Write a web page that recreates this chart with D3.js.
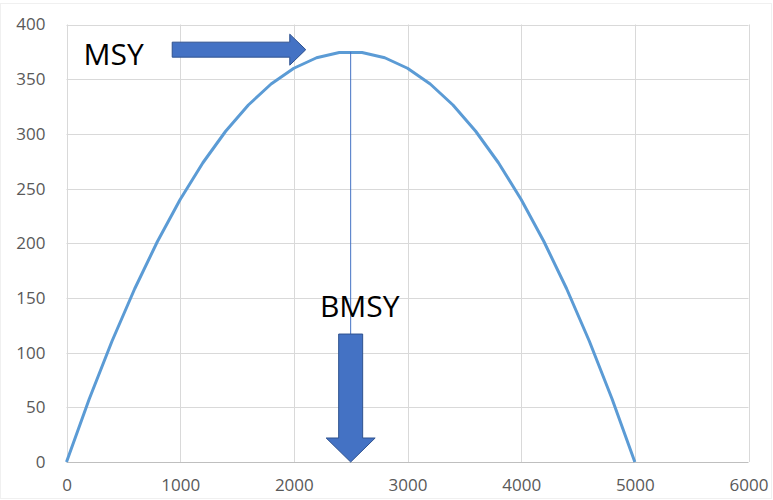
<!DOCTYPE html>
<html>
<head>
<meta charset="utf-8">
<script src="https://cdn.jsdelivr.net/npm/d3@7"></script>
<style>
  html, body { margin: 0; padding: 0; background: #fff; }
  svg { display: block; }
</style>
</head>
<body>
<svg id="chart" width="773" height="500"></svg>
<script>
// Surplus production curve: yield against biomass
const biomass = [0, 200, 400, 600, 800, 1000, 1200, 1400, 1600, 1800, 2000, 2200, 2400,
                 2600, 2800, 3000, 3200, 3400, 3600, 3800, 4000, 4200, 4400, 4600, 4800, 5000];
const yieldValues = [0, 57.6, 110.4, 158.4, 201.6, 240, 273.6, 302.4, 326.4, 345.6, 360, 369.6, 374.4,
                     374.4, 369.6, 360, 345.6, 326.4, 302.4, 273.6, 240, 201.6, 158.4, 110.4, 57.6, 0];
const xTicks = [0, 1000, 2000, 3000, 4000, 5000, 6000];
const yTicks = [0, 50, 100, 150, 200, 250, 300, 350, 400];

// Reference points
const msy = 375;
const bmsy = 2500;
const msyArrow = { fromX: 930, toX: 2105, y: 377 };
const bmsyArrow = { x: 2500, fromY: 117, toY: 0 };
const msyLabel = { x: 150, y: 363, text: "MSY" };
const bmsyLabel = { x: 2230, y: 133, text: "BMSY" };

const svg = d3.select("#chart");
const x = d3.scaleLinear().domain([0, 6000]).range([66.5, 748.5]);
const y = d3.scaleLinear().domain([0, 400]).range([462, 24.5]);

// faint outer frame
svg.append("rect")
  .attr("x", 0.5).attr("y", 3.5).attr("width", 771).attr("height", 495)
  .attr("fill", "none").attr("stroke", "#f0f0f0");

// gridlines
const grid = svg.append("g");
grid.selectAll("line.v").data(xTicks).join("line")
  .attr("x1", d => Math.round(x(d)) + 0.5).attr("x2", d => Math.round(x(d)) + 0.5)
  .attr("y1", y(0)).attr("y2", y(400))
  .attr("stroke", "#d9d9d9").attr("stroke-width", 1);
grid.selectAll("line.h").data(yTicks).join("line")
  .attr("y1", d => Math.round(y(d)) + 0.5).attr("y2", d => Math.round(y(d)) + 0.5)
  .attr("x1", x(0)).attr("x2", x(6000))
  .attr("stroke", d => d === 0 ? "#bfbfbf" : "#d9d9d9").attr("stroke-width", 1);

// axes (labels only)
const xAxis = d3.axisBottom(x).tickValues(xTicks).tickFormat(d3.format("d")).tickSize(0).tickPadding(17);
const yAxis = d3.axisLeft(y).tickValues(yTicks).tickFormat(d3.format("d")).tickSize(0).tickPadding(21);
const gx = svg.append("g").attr("transform", `translate(0,${y(0)})`).call(xAxis);
const gy = svg.append("g").attr("transform", `translate(${x(0)},0)`).call(yAxis);
[gx, gy].forEach(g => {
  g.select(".domain").remove();
  g.selectAll("text")
    .attr("fill", "#595959")
    .style("font-family", "'Open Sans', sans-serif")
    .style("font-size", "17px");
});

// production curve
const pts = biomass.map((b, i) => [b, yieldValues[i]]);
svg.append("path")
  .datum(pts)
  .attr("fill", "none")
  .attr("stroke", "#5B9BD5")
  .attr("stroke-width", 3)
  .attr("stroke-linejoin", "round")
  .attr("d", d3.line().x(d => x(d[0])).y(d => y(d[1])));

// BMSY drop line
svg.append("line")
  .attr("x1", x(bmsy)).attr("x2", x(bmsy))
  .attr("y1", y(msy)).attr("y2", y(bmsyArrow.fromY))
  .attr("stroke", "#4472C4").attr("stroke-width", 1);

// block arrows
const arrowStyle = sel => sel.attr("fill", "#4472C4").attr("stroke", "#2F528F").attr("stroke-width", 1);

function hArrow(x0, x1, yc, shaftHalf, headHalf, headLen) {
  const xh = x1 - headLen;
  return [[x0, yc - shaftHalf], [xh, yc - shaftHalf], [xh, yc - headHalf], [x1, yc],
          [xh, yc + headHalf], [xh, yc + shaftHalf], [x0, yc + shaftHalf]];
}
function vArrow(xc, y0, y1, shaftHalf, headHalf, headLen) {
  const yh = y1 - headLen;
  return [[xc - shaftHalf, y0], [xc + shaftHalf, y0], [xc + shaftHalf, yh], [xc + headHalf, yh],
          [xc, y1], [xc - headHalf, yh], [xc - shaftHalf, yh]];
}

svg.append("polygon")
  .attr("points", hArrow(x(msyArrow.fromX), x(msyArrow.toX), y(msyArrow.y), 7.5, 15.5, 16).join(" "))
  .call(arrowStyle);
svg.append("polygon")
  .attr("points", vArrow(x(bmsyArrow.x), y(bmsyArrow.fromY), y(bmsyArrow.toY), 12, 24.5, 24).join(" "))
  .call(arrowStyle);

// labels
svg.append("text")
  .attr("x", x(msyLabel.x)).attr("y", y(msyLabel.y))
  .attr("fill", "#000")
  .style("font-family", "'Open Sans', sans-serif").style("font-size", "30px")
  .text(msyLabel.text);
svg.append("text")
  .attr("x", x(bmsyLabel.x)).attr("y", y(bmsyLabel.y))
  .attr("fill", "#000")
  .style("font-family", "'Open Sans', sans-serif").style("font-size", "30px")
  .text(bmsyLabel.text);
</script>
</body>
</html>
